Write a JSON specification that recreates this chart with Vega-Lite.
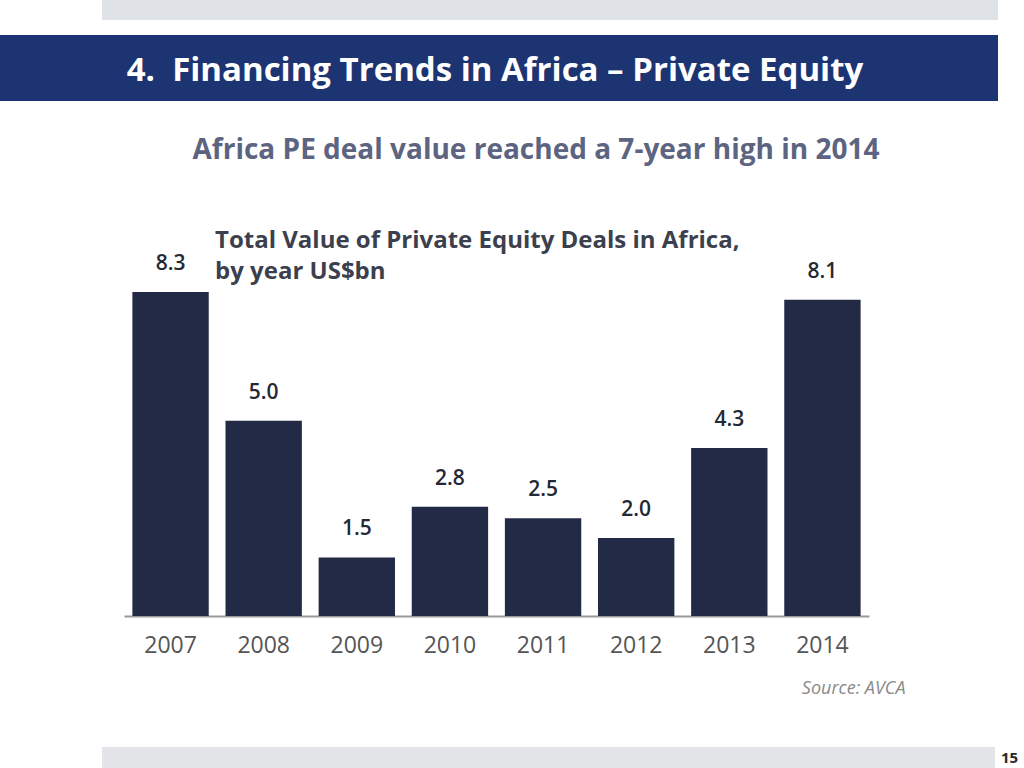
{
  "$schema": "https://vega.github.io/schema/vega-lite/v6.json",
  "padding": 0,
  "background": "white",
  "config": {
    "view": {"stroke": null},
    "font": "Open Sans"
  },
  "spacing": 50,
  "vconcat": [
    {
      "spacing": 15,
      "vconcat": [
        {
          "spacing": 0,
          "hconcat": [
            {"width": 102, "height": 20, "data": {"values": [{}]}, "mark": {"type": "point", "opacity": 0}, "encoding": {}},
            {"width": 896, "height": 20, "view": {"fill": "#dfe2e7", "stroke": null}, "data": {"values": [{}]}, "mark": {"type": "point", "opacity": 0}, "encoding": {}}
          ]
        },
        {
          "width": 998,
          "height": 66,
          "view": {"fill": "#1d3473", "stroke": null},
          "title": {
            "text": "Africa PE deal value reached a 7-year high in 2014",
            "orient": "bottom",
            "anchor": "middle",
            "dx": 37,
            "offset": 36,
            "fontSize": 28,
            "fontWeight": "bold",
            "color": "#5d6481",
            "font": "Open Sans"
          },
          "data": {"values": [{"t": "4.\u00a0 Financing Trends in Africa – Private Equity"}]},
          "mark": {"type": "text", "color": "white", "fontSize": 33, "fontWeight": "bold", "font": "Open Sans", "dx": -4, "dy": 3},
          "encoding": {"text": {"field": "t"}}
        },
        {
          "spacing": 0,
          "hconcat": [
            {"width": 124, "height": 10, "data": {"values": [{}]}, "mark": {"type": "point", "opacity": 0}, "encoding": {}},
            {
              "width": 745,
              "height": 436,
              "title": {
                "text": ["Total Value of Private Equity Deals in Africa,", "by year US$bn"],
                "anchor": "start",
                "frame": "group",
                "offset": -104,
                "dx": 91,
                "fontSize": 24,
                "lineHeight": 31,
                "fontWeight": "bold",
                "color": "#3c3f4d",
                "font": "Open Sans"
              },
              "data": {
                "values": [
                  {"year": "2007", "value": 8.3},
                  {"year": "2008", "value": 5.0},
                  {"year": "2009", "value": 1.5},
                  {"year": "2010", "value": 2.8},
                  {"year": "2011", "value": 2.5},
                  {"year": "2012", "value": 2.0},
                  {"year": "2013", "value": 4.3},
                  {"year": "2014", "value": 8.1}
                ]
              },
              "encoding": {
                "x": {
                  "field": "year",
                  "type": "ordinal",
                  "scale": {"paddingInner": 0.18, "paddingOuter": 0.09},
                  "axis": {
                    "labelAngle": 0,
                    "labelFontSize": 23,
                    "labelColor": "#555555",
                    "labelPadding": 18,
                    "ticks": false,
                    "domainColor": "#9a9a9a",
                    "domainWidth": 2,
                    "title": "Source: AVCA",
                    "titleFontSize": 18,
                    "titleFontStyle": "italic",
                    "titleFontWeight": "normal",
                    "titleColor": "#8a8a8a",
                    "titleAlign": "right",
                    "titleX": 781,
                    "titleY": 77,
                    "titleBaseline": "alphabetic"
                  }
                },
                "y": {
                  "field": "value",
                  "type": "quantitative",
                  "scale": {"domain": [0, 11.165], "nice": false},
                  "axis": null
                }
              },
              "layer": [
                {"mark": {"type": "bar", "color": "#232a45"}},
                {
                  "mark": {"type": "text", "dy": -22, "baseline": "alphabetic", "fontSize": 21, "fontWeight": 600, "color": "#252835"},
                  "encoding": {"text": {"field": "value", "type": "quantitative", "format": ".1f"}}
                }
              ]
            }
          ]
        }
      ]
    },
    {
      "spacing": 0,
      "hconcat": [
        {"width": 102, "height": 21, "data": {"values": [{}]}, "mark": {"type": "point", "opacity": 0}, "encoding": {}},
        {"width": 893, "height": 21, "view": {"fill": "#e3e5e8", "stroke": null}, "data": {"values": [{}]}, "mark": {"type": "point", "opacity": 0}, "encoding": {}},
        {
          "width": 29,
          "height": 21,
          "data": {"values": [{"p": "15"}]},
          "mark": {"type": "text", "fontSize": 15, "fontWeight": "bold", "color": "#2a2a2a"},
          "encoding": {"text": {"field": "p"}}
        }
      ]
    }
  ]
}
